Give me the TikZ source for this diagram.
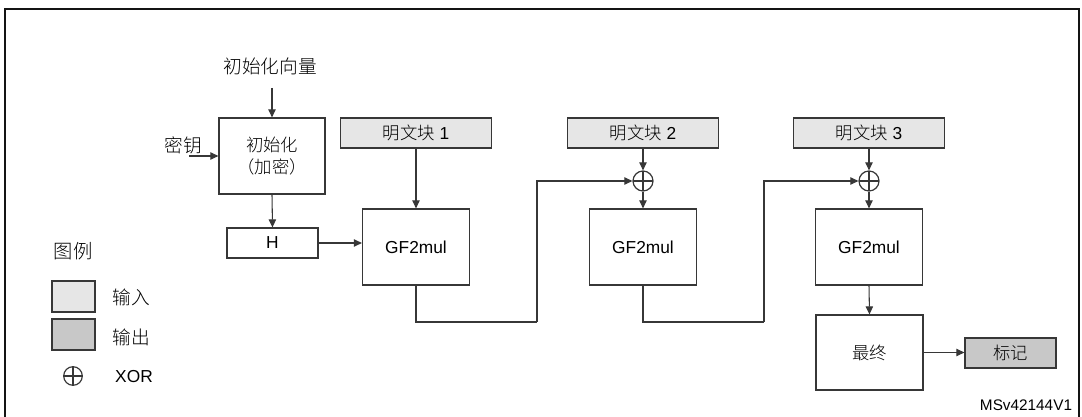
\documentclass[tikz,border=0pt]{standalone}
\usepackage{fontspec}
\setmainfont{Liberation Sans}
\newfontfamily\cjk[UprightFont={* Light}]{Noto Sans CJK SC}
\usepackage{tikz}
\usetikzlibrary{arrows.meta,positioning}
\definecolor{framecolor}{RGB}{20,20,20}
\definecolor{linecolor}{RGB}{55,55,55}
\definecolor{incolor}{RGB}{230,230,230}
\definecolor{outcolor}{RGB}{200,200,200}
\begin{document}
\begin{tikzpicture}[x=0.75pt, y=-0.75pt, >={Triangle[length=6pt, width=5.5pt]},
    font=\fontsize{13}{15}\selectfont,
    blk/.style={draw=linecolor, line width=0.9pt, inner sep=0pt, align=center},
    inbox/.style={blk, fill=incolor, minimum width=113.25pt, minimum height=22.5pt},
    mulbox/.style={blk, minimum width=80.25pt, minimum height=57pt},
    xorop/.style={circle, draw=linecolor, line width=0.9pt, inner sep=0pt, minimum size=15pt,
      path picture={\draw[linecolor, line width=0.9pt] (path picture bounding box.north) -- (path picture bounding box.south)
        (path picture bounding box.west) -- (path picture bounding box.east);}},
    arr/.style={->, draw=linecolor, line width=0.8pt},
    wire/.style={draw=linecolor, line width=0.8pt}]
  \useasboundingbox (0,0) rectangle (1082,417);
  \draw[framecolor, line width=2pt] (5,417) -- (5,9) -- (1079,9) -- (1079,417);

  \node[font=\fontsize{14}{16}\selectfont] (ivtext) at (270,66) {\cjk 初始化向量};
  \coordinate (ivin) at (272,88);
  \node[blk, minimum width=79.5pt, minimum height=57pt] (init) at (272,156) {{\cjk 初始化}\\[1pt]{\cjk （加密）}};
  \node[font=\fontsize{14}{16}\selectfont] (keytext) at (183,145) {\cjk 密钥};
  \coordinate (keyin) at (189,156);
  \node[blk, minimum width=68.25pt, minimum height=22.5pt] (h) at (272.5,243) {H};

  \node[mulbox] (mul1) at (416,247) {GF2mul};
  \node[mulbox] (mul2) at (643,247) {GF2mul};
  \node[mulbox] (mul3) at (869,247) {GF2mul};
  \node[inbox] (pt1) at (416,133) {{\cjk 明文块} 1};
  \node[inbox] (pt2) at (643,133) {{\cjk 明文块} 2};
  \node[inbox] (pt3) at (869,133) {{\cjk 明文块} 3};
  \node[xorop] (xor2) at (643,181) {};
  \node[xorop] (xor3) at (869,181) {};
  \coordinate (loop1) at (537,322);
  \coordinate (loop2) at (764,322);

  \node[blk, minimum width=80.25pt, minimum height=56.25pt] (final) at (869.5,352.5) {\cjk 最终};
  \node[blk, fill=outcolor, minimum width=68.25pt, minimum height=22.5pt] (tag) at (1010.5,353) {\cjk 标记};

  \draw[arr] (ivin) -- (init.north);
  \draw[arr] (keyin) -- (init.west);
  \draw[arr] (init.south) -- (h.north);
  \draw[arr] (h.east) -- (h.east -| mul1.west);
  \draw[arr] (pt1.south) -- (mul1.north);
  \draw[arr] (pt2.south) -- (xor2.north);
  \draw[arr] (xor2.south) -- (mul2.north);
  \draw[arr] (pt3.south) -- (xor3.north);
  \draw[arr] (xor3.south) -- (mul3.north);
  \draw[wire] (mul1.south) -- (mul1.south |- loop1) -- (loop1);
  \draw[arr] (loop1) |- (xor2.west);
  \draw[wire] (mul2.south) -- (mul2.south |- loop2) -- (loop2);
  \draw[arr] (loop2) |- (xor3.west);
  \draw[arr] (mul3.south) -- (final.north);
  \draw[arr] (final.east) -- (final.east -| tag.west);

  \node[font=\fontsize{14.5}{16}\selectfont] (legend) at (73,251) {\cjk 图例};
  \node[blk, fill=incolor, minimum width=32.25pt, minimum height=23.25pt] (legin) at (73.5,296.5) {};
  \node[blk, fill=outcolor, minimum width=32.25pt, minimum height=23.25pt] (legout) at (73.5,334.5) {};
  \node[xorop, minimum size=14pt] (legxor) at (73,376) {};
  \node[font=\fontsize{14}{16}\selectfont] (legintext) at (131,297) {\cjk 输入};
  \node[font=\fontsize{14}{16}\selectfont] (legouttext) at (131,337) {\cjk 输出};
  \node (legxortext) at (134,377) {XOR};
  \node[font=\fontsize{11.5}{13}\selectfont] (code) at (1026,405) {MSv42144V1};
\end{tikzpicture}
\end{document}
